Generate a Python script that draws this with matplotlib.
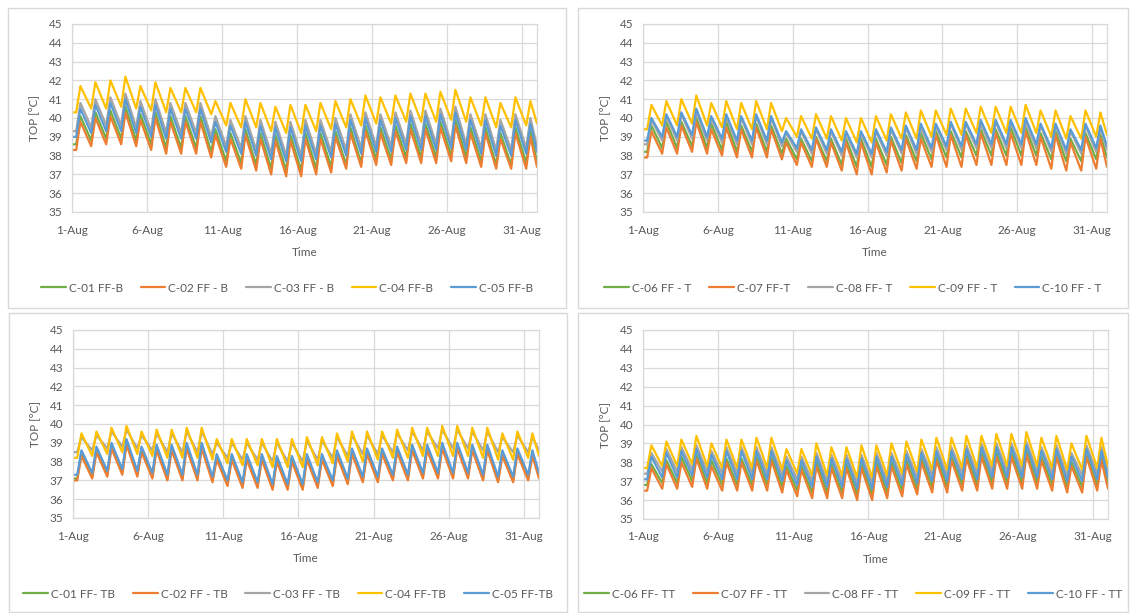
import matplotlib.pyplot as plt
from matplotlib.patches import Rectangle

# Daily peak (max) and early-morning trough (min) of operative temperature, August.
# min lists carry one extra value: the level reached at the end of 31-Aug.

# --- FF-B ---
b_c01_max = [40.1, 40.3, 40.4, 40.6, 40.2, 40.3, 40.1, 40.1, 40.1, 39.4, 39.2, 39.4, 39.2, 39.1, 39.1, 39.2,
             39.2, 39.3, 39.5, 39.6, 39.5, 39.6, 39.7, 39.7, 39.8, 39.9, 39.5, 39.5, 39.2, 39.5, 39.3]
b_c01_min = [38.6, 38.8, 38.9, 38.9, 38.8, 38.6, 38.4, 38.4, 38.4, 38.2, 37.7, 37.6, 37.5, 37.3, 37.2, 37.2,
             37.3, 37.4, 37.5, 37.6, 37.8, 37.8, 37.9, 37.9, 37.9, 38.0, 37.9, 37.7, 37.5, 37.5, 37.6, 37.7]
b_c02_max = [39.8, 40.0, 40.1, 40.3, 39.9, 40.0, 39.8, 39.8, 39.8, 39.1, 38.9, 39.1, 38.9, 38.8, 38.8, 38.9,
             38.9, 39.0, 39.2, 39.3, 39.2, 39.3, 39.4, 39.4, 39.5, 39.6, 39.2, 39.2, 38.9, 39.2, 39.0]
b_c02_min = [38.3, 38.5, 38.6, 38.6, 38.5, 38.3, 38.1, 38.1, 38.1, 37.9, 37.4, 37.3, 37.2, 37.0, 36.9, 36.9,
             37.0, 37.1, 37.3, 37.4, 37.5, 37.5, 37.6, 37.6, 37.6, 37.7, 37.6, 37.4, 37.3, 37.3, 37.3, 37.4]
b_c03_max = [40.8, 41.0, 41.1, 41.3, 40.9, 41.0, 40.8, 40.8, 40.8, 40.1, 39.9, 40.1, 39.9, 39.8, 39.8, 39.9,
             39.9, 40.0, 40.2, 40.3, 40.2, 40.3, 40.4, 40.4, 40.5, 40.6, 40.2, 40.2, 39.9, 40.2, 40.0]
b_c03_min = [39.3, 39.5, 39.6, 39.6, 39.5, 39.3, 39.2, 39.2, 39.2, 39.0, 38.5, 38.4, 38.3, 38.1, 38.0, 38.0,
             38.1, 38.2, 38.3, 38.4, 38.5, 38.5, 38.6, 38.6, 38.6, 38.7, 38.6, 38.4, 38.3, 38.3, 38.4, 38.5]
b_c04_max = [41.7, 41.9, 42.0, 42.2, 41.7, 41.9, 41.6, 41.6, 41.6, 40.9, 40.8, 41.0, 40.8, 40.6, 40.7, 40.7,
             40.8, 40.9, 41.0, 41.2, 41.1, 41.2, 41.3, 41.3, 41.4, 41.5, 41.1, 41.1, 40.8, 41.1, 40.9]
b_c04_min = [40.3, 40.5, 40.5, 40.6, 40.5, 40.4, 40.3, 40.3, 40.3, 40.2, 39.6, 39.5, 39.5, 39.3, 39.2, 39.2,
             39.3, 39.4, 39.5, 39.6, 39.7, 39.7, 39.8, 39.8, 39.8, 39.9, 39.8, 39.6, 39.5, 39.5, 39.6, 39.7]
b_c05_max = [40.5, 40.7, 40.8, 41.0, 40.6, 40.7, 40.5, 40.5, 40.5, 39.8, 39.6, 39.8, 39.6, 39.5, 39.5, 39.6,
             39.6, 39.7, 39.9, 40.0, 39.9, 40.0, 40.1, 40.1, 40.2, 40.3, 39.9, 39.9, 39.6, 39.9, 39.7]
b_c05_min = [39.0, 39.2, 39.3, 39.3, 39.2, 39.0, 38.9, 38.9, 38.9, 38.7, 38.2, 38.1, 38.0, 37.8, 37.7, 37.7,
             37.8, 37.9, 38.0, 38.1, 38.2, 38.2, 38.3, 38.3, 38.3, 38.4, 38.3, 38.1, 38.0, 38.0, 38.1, 38.2]

# --- FF-T ---
t_c06_max = [39.6, 39.8, 39.8, 40.0, 39.7, 39.8, 39.6, 39.7, 39.6, 38.9, 38.9, 39.0, 38.9, 38.9, 38.9, 38.9,
             39.0, 39.1, 39.2, 39.3, 39.3, 39.3, 39.4, 39.4, 39.5, 39.5, 39.2, 39.3, 38.9, 39.2, 39.1]
t_c06_min = [38.2, 38.4, 38.4, 38.5, 38.4, 38.3, 38.2, 38.2, 38.2, 38.1, 37.8, 37.7, 37.7, 37.5, 37.4, 37.4,
             37.5, 37.6, 37.7, 37.8, 37.9, 37.9, 38.0, 38.0, 38.0, 38.0, 38.0, 37.8, 37.7, 37.7, 37.8, 37.9]
t_c07_max = [39.3, 39.5, 39.6, 39.8, 39.4, 39.5, 39.4, 39.5, 39.4, 38.7, 38.7, 38.9, 38.7, 38.7, 38.7, 38.7,
             38.8, 38.9, 38.9, 39.1, 39.1, 39.1, 39.2, 39.2, 39.2, 39.3, 39.0, 39.1, 38.7, 39.0, 38.9]
t_c07_min = [37.9, 38.1, 38.1, 38.2, 38.1, 38.0, 37.9, 37.9, 37.9, 37.8, 37.5, 37.4, 37.4, 37.2, 37.0, 37.0,
             37.1, 37.2, 37.3, 37.4, 37.4, 37.4, 37.5, 37.5, 37.5, 37.5, 37.5, 37.3, 37.2, 37.2, 37.3, 37.4]
t_c08_max = [39.9, 40.1, 40.2, 40.3, 40.0, 40.1, 40.0, 40.1, 40.0, 39.2, 39.3, 39.4, 39.3, 39.2, 39.2, 39.3,
             39.4, 39.5, 39.5, 39.6, 39.7, 39.7, 39.7, 39.8, 39.8, 39.8, 39.6, 39.6, 39.3, 39.6, 39.5]
t_c08_min = [38.6, 38.8, 38.8, 38.9, 38.8, 38.7, 38.6, 38.6, 38.6, 38.5, 38.2, 38.1, 38.1, 38.0, 37.9, 37.9,
             38.0, 38.1, 38.1, 38.2, 38.3, 38.3, 38.4, 38.4, 38.4, 38.4, 38.4, 38.2, 38.1, 38.1, 38.2, 38.3]
t_c09_max = [40.7, 40.9, 41.0, 41.2, 40.8, 40.9, 40.8, 40.9, 40.8, 40.0, 40.1, 40.2, 40.1, 40.0, 40.0, 40.1,
             40.2, 40.3, 40.4, 40.4, 40.5, 40.5, 40.6, 40.6, 40.6, 40.7, 40.4, 40.4, 40.1, 40.4, 40.3]
t_c09_min = [39.4, 39.6, 39.6, 39.7, 39.6, 39.5, 39.4, 39.4, 39.4, 39.3, 39.0, 38.9, 38.9, 38.8, 38.7, 38.7,
             38.8, 38.9, 38.9, 39.0, 39.1, 39.1, 39.2, 39.2, 39.2, 39.2, 39.2, 39.0, 38.9, 38.9, 39.0, 39.1]
t_c10_max = [40.0, 40.2, 40.3, 40.5, 40.1, 40.2, 40.1, 40.2, 40.1, 39.3, 39.4, 39.5, 39.4, 39.3, 39.3, 39.4,
             39.5, 39.6, 39.7, 39.7, 39.8, 39.8, 39.9, 39.9, 39.9, 40.0, 39.7, 39.7, 39.4, 39.7, 39.6]
t_c10_min = [38.8, 39.0, 39.0, 39.1, 39.0, 38.9, 38.8, 38.8, 38.8, 38.7, 38.4, 38.3, 38.3, 38.2, 38.1, 38.1,
             38.2, 38.3, 38.3, 38.4, 38.5, 38.5, 38.6, 38.6, 38.6, 38.6, 38.6, 38.4, 38.3, 38.3, 38.4, 38.5]

# --- FF-TB ---
tb_c01_max = [38.5, 38.7, 38.9, 39.1, 38.7, 38.8, 38.8, 38.9, 38.9, 38.3, 38.3, 38.3, 38.3, 38.2, 38.2, 38.3,
              38.3, 38.5, 38.6, 38.6, 38.6, 38.7, 38.8, 38.8, 38.9, 38.9, 38.8, 38.8, 38.5, 38.6, 38.5]
tb_c01_min = [37.1, 37.2, 37.3, 37.4, 37.3, 37.2, 37.1, 37.1, 37.1, 37.0, 36.8, 36.7, 36.7, 36.6, 36.6, 36.6,
              36.7, 36.8, 36.9, 37.0, 37.0, 37.1, 37.1, 37.2, 37.2, 37.2, 37.2, 37.1, 37.0, 37.0, 37.1, 37.2]
tb_c02_max = [38.3, 38.5, 38.7, 38.9, 38.5, 38.6, 38.6, 38.7, 38.7, 38.1, 38.1, 38.1, 38.1, 38.0, 38.0, 38.1,
              38.1, 38.3, 38.4, 38.4, 38.4, 38.5, 38.6, 38.6, 38.7, 38.7, 38.6, 38.6, 38.3, 38.4, 38.3]
tb_c02_min = [37.0, 37.1, 37.2, 37.3, 37.2, 37.1, 37.0, 37.0, 37.0, 36.9, 36.7, 36.6, 36.6, 36.5, 36.5, 36.5,
              36.6, 36.7, 36.8, 36.9, 36.9, 37.0, 37.0, 37.1, 37.1, 37.1, 37.1, 37.0, 36.9, 36.9, 37.0, 37.1]
tb_c03_max = [39.3, 39.4, 39.6, 39.7, 39.4, 39.5, 39.5, 39.6, 39.6, 39.0, 39.0, 39.0, 39.0, 39.0, 39.0, 39.1,
              39.1, 39.3, 39.4, 39.4, 39.4, 39.5, 39.6, 39.6, 39.7, 39.7, 39.6, 39.6, 39.3, 39.4, 39.3]
tb_c03_min = [38.5, 38.6, 38.7, 38.8, 38.7, 38.6, 38.5, 38.5, 38.5, 38.4, 38.2, 38.1, 38.1, 38.0, 38.0, 38.0,
              38.1, 38.2, 38.3, 38.4, 38.4, 38.5, 38.6, 38.6, 38.7, 38.7, 38.7, 38.6, 38.5, 38.5, 38.5, 38.6]
tb_c04_max = [39.5, 39.6, 39.8, 39.9, 39.6, 39.7, 39.7, 39.8, 39.8, 39.2, 39.2, 39.2, 39.2, 39.2, 39.2, 39.3,
              39.3, 39.5, 39.6, 39.6, 39.6, 39.7, 39.8, 39.8, 39.9, 39.9, 39.8, 39.8, 39.5, 39.6, 39.5]
tb_c04_min = [38.2, 38.3, 38.4, 38.5, 38.4, 38.3, 38.2, 38.2, 38.2, 38.1, 37.9, 37.8, 37.8, 37.7, 37.7, 37.7,
              37.8, 37.9, 38.0, 38.0, 38.1, 38.2, 38.2, 38.3, 38.3, 38.3, 38.3, 38.2, 38.1, 38.1, 38.2, 38.3]
tb_c05_max = [38.6, 38.8, 39.0, 39.2, 38.8, 38.9, 38.9, 39.0, 39.0, 38.4, 38.4, 38.4, 38.4, 38.3, 38.3, 38.4,
              38.4, 38.6, 38.7, 38.7, 38.7, 38.8, 38.9, 38.9, 39.0, 39.0, 38.9, 38.9, 38.6, 38.7, 38.6]
tb_c05_min = [37.3, 37.4, 37.5, 37.6, 37.5, 37.4, 37.3, 37.3, 37.3, 37.2, 37.0, 36.9, 36.9, 36.8, 36.8, 36.8,
              36.9, 37.0, 37.1, 37.2, 37.2, 37.3, 37.3, 37.4, 37.4, 37.4, 37.4, 37.3, 37.2, 37.2, 37.3, 37.4]

# --- FF-TT ---
tt_c06_max = [37.9, 38.1, 38.3, 38.4, 38.1, 38.2, 38.2, 38.3, 38.3, 37.8, 37.8, 38.0, 37.9, 37.9, 37.9, 38.0,
              38.0, 38.1, 38.2, 38.3, 38.3, 38.4, 38.5, 38.5, 38.5, 38.6, 38.3, 38.4, 38.0, 38.4, 38.3]
tt_c06_min = [36.8, 36.9, 36.9, 37.0, 36.9, 36.8, 36.8, 36.8, 36.8, 36.7, 36.5, 36.4, 36.4, 36.4, 36.3, 36.3,
              36.4, 36.5, 36.6, 36.7, 36.7, 36.8, 36.8, 36.9, 36.9, 36.9, 36.9, 36.8, 36.7, 36.7, 36.8, 36.9]
tt_c07_max = [37.7, 37.9, 38.0, 38.2, 37.8, 38.0, 38.0, 38.1, 38.1, 37.6, 37.6, 37.8, 37.7, 37.7, 37.7, 37.8,
              37.8, 37.9, 38.0, 38.1, 38.1, 38.2, 38.3, 38.3, 38.3, 38.4, 38.1, 38.3, 37.8, 38.3, 38.1]
tt_c07_min = [36.5, 36.6, 36.6, 36.7, 36.6, 36.5, 36.5, 36.5, 36.5, 36.4, 36.2, 36.1, 36.1, 36.1, 36.0, 36.0,
              36.1, 36.2, 36.3, 36.4, 36.4, 36.5, 36.5, 36.6, 36.6, 36.6, 36.6, 36.5, 36.4, 36.4, 36.5, 36.6]
tt_c08_max = [38.5, 38.7, 38.8, 38.9, 38.6, 38.8, 38.8, 38.8, 38.8, 38.3, 38.3, 38.5, 38.4, 38.4, 38.4, 38.5,
              38.5, 38.6, 38.7, 38.8, 38.8, 38.9, 39.0, 39.0, 39.0, 39.1, 38.8, 38.9, 38.5, 38.9, 38.8]
tt_c08_min = [37.4, 37.5, 37.5, 37.6, 37.5, 37.4, 37.4, 37.4, 37.4, 37.3, 37.1, 37.0, 37.0, 37.0, 36.9, 36.9,
              37.0, 37.1, 37.2, 37.3, 37.3, 37.4, 37.4, 37.5, 37.5, 37.5, 37.5, 37.4, 37.3, 37.3, 37.4, 37.5]
tt_c09_max = [38.9, 39.1, 39.2, 39.4, 39.0, 39.2, 39.2, 39.3, 39.3, 38.7, 38.7, 39.0, 38.8, 38.8, 38.9, 38.9,
              39.0, 39.1, 39.2, 39.3, 39.3, 39.4, 39.4, 39.5, 39.5, 39.6, 39.3, 39.4, 39.0, 39.4, 39.3]
tt_c09_min = [37.7, 37.8, 37.8, 37.9, 37.8, 37.7, 37.7, 37.7, 37.7, 37.6, 37.4, 37.3, 37.3, 37.3, 37.2, 37.2,
              37.3, 37.4, 37.5, 37.6, 37.6, 37.7, 37.7, 37.8, 37.8, 37.8, 37.8, 37.7, 37.6, 37.6, 37.7, 37.8]
tt_c10_max = [38.3, 38.5, 38.6, 38.7, 38.4, 38.6, 38.6, 38.6, 38.6, 38.1, 38.1, 38.3, 38.2, 38.2, 38.2, 38.3,
              38.3, 38.4, 38.5, 38.6, 38.6, 38.7, 38.8, 38.8, 38.8, 38.9, 38.6, 38.7, 38.3, 38.7, 38.6]
tt_c10_min = [37.1, 37.2, 37.2, 37.3, 37.2, 37.1, 37.1, 37.1, 37.1, 37.0, 36.8, 36.7, 36.7, 36.7, 36.6, 36.6,
              36.7, 36.8, 36.9, 37.0, 37.0, 37.1, 37.1, 37.2, 37.2, 37.2, 37.2, 37.1, 37.0, 37.0, 37.1, 37.2]

labels_b = ["C-01 FF-B", "C-02 FF - B", "C-03 FF - B", "C-04 FF-B", "C-05 FF-B"]
labels_t = ["C-06 FF - T", "C-07 FF-T", "C-08 FF- T", "C-09 FF - T", "C-10 FF - T"]
labels_tb = ["C-01 FF- TB", "C-02 FF - TB", "C-03 FF - TB", "C-04 FF-TB", "C-05 FF-TB"]
labels_tt = ["C-06 FF- TT", "C-07 FF - TT", "C-08 FF - TT", "C-09 FF - TT", "C-10 FF - TT"]

date_ticks = [0, 5, 10, 15, 20, 25, 30]
date_labels = ["1-Aug", "6-Aug", "11-Aug", "16-Aug", "21-Aug", "26-Aug", "31-Aug"]
n_days = 31

colors = ["#70AD47", "#ED7D31", "#A5A5A5", "#FFC000", "#5B9BD5"]
TROUGH_T = 0.28   # fraction of the day where the minimum sits
PEAK_T = 0.56     # fraction of the day where the maximum sits

plt.rcParams['font.family'] = ['Lato', 'DejaVu Sans']
text_col = "#595959"
grid_col = "#D9D9D9"

W, H = 1136, 613
fig = plt.figure(figsize=(W / 100, H / 100), dpi=100)
fig.patch.set_facecolor("white")


def px_axes(x0, y0, x1, y1):
    return fig.add_axes([x0 / W, 1 - y1 / H, (x1 - x0) / W, (y1 - y0) / H])


def daily_curve(mx, mn):
    xs, ys = [0.0], [mn[0]]
    for d in range(n_days):
        xs += [d + TROUGH_T, d + PEAK_T]
        ys += [mn[d], mx[d]]
    xs.append(float(n_days))
    ys.append(mn[n_days])
    return xs, ys


def draw_panel(box, area, series, labels, legend_y):
    bx0, by0, bx1, by1 = box
    fig.patches.append(Rectangle((bx0 / W, 1 - by1 / H), (bx1 - bx0) / W, (by1 - by0) / H,
                                 transform=fig.transFigure, fill=False,
                                 edgecolor=grid_col, linewidth=1.0))
    ax = px_axes(*area)
    handles = []
    for (mx, mn), col, lab in zip(series, colors, labels):
        xs, ys = daily_curve(mx, mn)
        h, = ax.plot(xs, ys, color=col, lw=1.6, label=lab,
                     solid_joinstyle='round', solid_capstyle='round')
        handles.append(h)
    ax.set_xlim(0, n_days)
    ax.set_ylim(35, 45)
    ax.set_yticks(range(35, 46))
    ax.set_xticks(date_ticks)
    ax.set_xticklabels(date_labels)
    ax.grid(True, color=grid_col, lw=0.9)
    ax.set_axisbelow(True)
    for s in ax.spines.values():
        s.set_color(grid_col)
        s.set_linewidth(0.9)
    ax.tick_params(length=0, labelsize=8.5, labelcolor=text_col)
    ax.tick_params(axis='x', pad=9)
    ax.tick_params(axis='y', pad=7)
    ax.set_xlabel("Time", fontsize=8.5, color=text_col, labelpad=8)
    ax.set_ylabel("TOP [°C]", fontsize=8.5, color=text_col)
    ax.yaxis.set_label_coords(-32 / (area[2] - area[0]), 0.5)
    fig.legend(handles=handles, loc='center', ncol=5, frameon=False,
               bbox_to_anchor=(((bx0 + bx1) / 2) / W, 1 - legend_y / H),
               fontsize=8.5, labelcolor=text_col, handlelength=2.1,
               handletextpad=0.25, columnspacing=1.5)
    return ax


draw_panel((8, 8, 566, 308), (72, 24, 537, 212),
           [(b_c01_max, b_c01_min), (b_c02_max, b_c02_min), (b_c03_max, b_c03_min),
            (b_c04_max, b_c04_min), (b_c05_max, b_c05_min)], labels_b, 288)
draw_panel((578, 8, 1128, 308), (643, 24, 1107, 212),
           [(t_c06_max, t_c06_min), (t_c07_max, t_c07_min), (t_c08_max, t_c08_min),
            (t_c09_max, t_c09_min), (t_c10_max, t_c10_min)], labels_t, 288)
draw_panel((9, 313, 567, 612), (73, 330, 539, 518),
           [(tb_c01_max, tb_c01_min), (tb_c02_max, tb_c02_min), (tb_c03_max, tb_c03_min),
            (tb_c04_max, tb_c04_min), (tb_c05_max, tb_c05_min)], labels_tb, 594)
draw_panel((578, 313, 1128, 612), (643, 330, 1108, 519),
           [(tt_c06_max, tt_c06_min), (tt_c07_max, tt_c07_min), (tt_c08_max, tt_c08_min),
            (tt_c09_max, tt_c09_min), (tt_c10_max, tt_c10_min)], labels_tt, 594)

fig.savefig("out.png", dpi=100, facecolor="white")
